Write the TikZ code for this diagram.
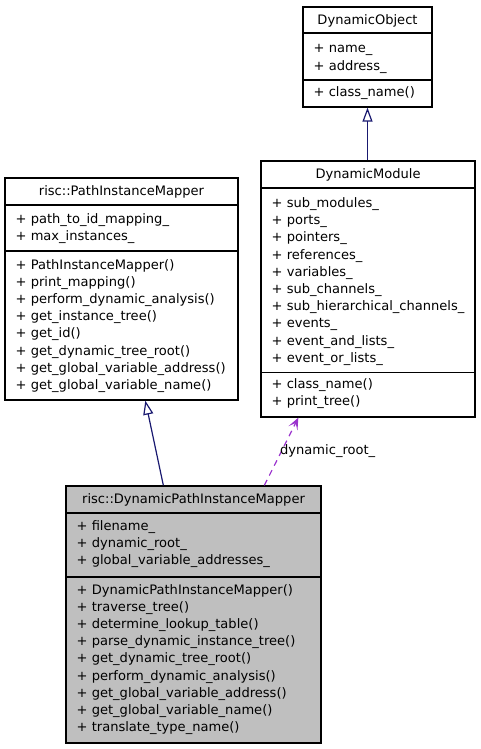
\documentclass[tikz,border=0pt]{standalone}
\usepackage{fontspec}
\setmainfont{DejaVu Sans}
\usetikzlibrary{arrows.meta,calc}
\definecolor{edgeblue}{HTML}{191970}
\definecolor{usepurple}{HTML}{9A32CD}
\definecolor{focusgrey}{HTML}{BFBFBF}
\tikzset{
  classbox/.style={draw=black, line width=1.3pt, inner sep=0pt, fill=white},
  focusbox/.style={classbox, fill=focusgrey},
  classtitle/.style={anchor=base, inner sep=0pt, font=\fontsize{13.05}{17}\selectfont},
  member/.style={anchor=base west, inner sep=0pt, font=\fontsize{13.05}{17}\selectfont},
  divider/.style={draw=black, line width=1.3pt},
  inherit/.style={draw=edgeblue, line width=1.2pt, -{Triangle[open,length=14pt,width=10pt,line join=miter]}},
  uses/.style={draw=usepurple, line width=1.2pt, dash pattern=on 6pt off 5pt, -{Stealth[length=12pt,width=10pt,inset=6pt]}},
  edgelabel/.style={anchor=west, inner sep=0pt, font=\fontsize{13.05}{17}\selectfont},
}
\begin{document}
\begin{tikzpicture}[x=1pt,y=-1pt]
\path[use as bounding box] (0,0) rectangle (480,749);

% ---------- DynamicObject ----------
\node[classbox, minimum width=129pt, minimum height=100pt] (do) at (367.5,57) {};
\draw[divider] (do.west |- 0,33) -- (do.east |- 0,33);
\draw[divider] (do.west |- 0,80) -- (do.east |- 0,80);
\node[classtitle] (do-t) at (367.5,24.5) {DynamicObject};
\foreach \t [count=\i] in {+ name\_, + address\_}
  \node[member] (do-a\i) at (313.5,{53+(\i-1)*17.2}) {\t};
\node[member] (do-m1) at (313.5,97) {+ class\_name()};

% ---------- DynamicModule ----------
\node[classbox, minimum width=214pt, minimum height=256pt] (dm) at (368,289) {};
\draw[divider] (dm.west |- 0,188) -- (dm.east |- 0,188);
\draw[divider] (dm.west |- 0,372.3) -- (dm.east |- 0,372.3);
\node[classtitle] (dm-t) at (368,178.5) {DynamicModule};
\foreach \t [count=\i] in {+ sub\_modules\_, + ports\_, + pointers\_, + references\_,
    + variables\_, + sub\_channels\_, + sub\_hierarchical\_channels\_, + events\_,
    + event\_and\_lists\_, + event\_or\_lists\_}
  \node[member] (dm-a\i) at (271.5,{207.5+(\i-1)*17.2}) {\t};
\foreach \t [count=\i] in {+ class\_name(), + print\_tree()}
  \node[member] (dm-m\i) at (271.5,{388.5+(\i-1)*17.2}) {\t};

% ---------- risc::PathInstanceMapper ----------
\node[classbox, minimum width=233pt, minimum height=222pt] (pim) at (121.5,289) {};
\draw[divider] (pim.west |- 0,205) -- (pim.east |- 0,205);
\draw[divider] (pim.west |- 0,251) -- (pim.east |- 0,251);
\node[classtitle] (pim-t) at (121.5,195.5) {risc::PathInstanceMapper};
\foreach \t [count=\i] in {+ path\_to\_id\_mapping\_, + max\_instances\_}
  \node[member] (pim-a\i) at (15.5,{223+(\i-1)*17.2}) {\t};
\foreach \t [count=\i] in {+ PathInstanceMapper(), + print\_mapping(), + perform\_dynamic\_analysis(),
    + get\_instance\_tree(), + get\_id(), + get\_dynamic\_tree\_root(),
    + get\_global\_variable\_address(), + get\_global\_variable\_name()}
  \node[member] (pim-m\i) at (15.5,{269+(\i-1)*17.2}) {\t};

% ---------- risc::DynamicPathInstanceMapper ----------
\node[focusbox, minimum width=255pt, minimum height=257pt] (dpim) at (193.5,614.5) {};
\draw[divider] (dpim.west |- 0,513) -- (dpim.east |- 0,513);
\draw[divider] (dpim.west |- 0,577) -- (dpim.east |- 0,577);
\node[classtitle] (dpim-t) at (193.5,503) {risc::DynamicPathInstanceMapper};
\foreach \t [count=\i] in {+ filename\_, + dynamic\_root\_, + global\_variable\_addresses\_}
  \node[member] (dpim-a\i) at (76.5,{530+(\i-1)*17.2}) {\t};
\foreach \t [count=\i] in {+ DynamicPathInstanceMapper(), + traverse\_tree(), + determine\_lookup\_table(),
    + parse\_dynamic\_instance\_tree(), + get\_dynamic\_tree\_root(), + perform\_dynamic\_analysis(),
    + get\_global\_variable\_address(), + get\_global\_variable\_name(), + translate\_type\_name()}
  \node[member] (dpim-m\i) at (76.5,{594+(\i-1)*17.2}) {\t};

% ---------- connectors ----------
\draw[inherit] (dm.north -| do.south) -- (do.south);
\draw[inherit] ([xshift=98pt]dpim.north west) -- ([xshift=141pt]pim.south west);
\draw[uses] ([xshift=199pt]dpim.north west) -- ([xshift=38pt]dm.south west);
\node[edgelabel] (lbl) at (280,451) {dynamic\_root\_};
\end{tikzpicture}
\end{document}
